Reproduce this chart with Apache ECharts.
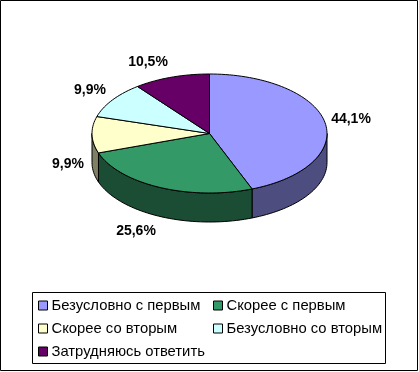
<!DOCTYPE html>
<html>
<head>
<meta charset="utf-8">
<style>
html,body{margin:0;padding:0;background:#fff;}
#chart{width:419px;height:372px;}
</style>
<script src="https://cdn.jsdelivr.net/npm/echarts@6/dist/echarts.min.js"></script>
</head>
<body>
<div id="chart"></div>
<script>
var categories = ["Безусловно с первым", "Скорее с первым", "Скорее со вторым", "Безусловно со вторым", "Затрудняюсь ответить"];
var values = [44.1, 25.6, 9.9, 9.9, 10.5];
var valueLabels = ["44,1%", "25,6%", "9,9%", "9,9%", "10,5%"];
var topColors = ["#9999ff", "#339966", "#ffffcc", "#ccffff", "#660066"];
var sideColors = ["#4d4d80", "#1a4d33", "#808066", "#668080", "#330033"];

// положение подписей и эллипса
var labelPos = [[351, 119], [136, 231], [68, 164], [90, 90], [148, 62]];
var cx = 209.5, cy = 133.5, rx = 117.5, ry = 59.5, depth = 29;

var total = 0;
for (var i = 0; i < values.length; i++) {
	total += values[i];
}

function pt(deg, dy) {
	var a = deg * Math.PI / 180;
	return [cx + rx * Math.sin(a), cy - ry * Math.cos(a) + dy];
}
function arc(from, to, dy) {
	var list = [];
	var n = Math.max(1, Math.ceil(Math.abs(to - from) / 2));
	for (var k = 0; k <= n; k++) {
		list.push(pt(from + (to - from) * k / n, dy));
	}
	return list;
}
function startAngle(idx) {
	var s = 0;
	for (var k = 0; k < idx; k++) {
		s += values[k];
	}
	return s / total * 360;
}

function makeRender(idx) {
	return function (params, api) {
		var a0 = startAngle(idx);
		var a1 = a0 + api.value(0) / total * 360;
		var children = [];
		// боковая стенка, только передняя половина
		var w0 = Math.max(a0, 90), w1 = Math.min(a1, 270);
		if (w1 > w0) {
			children.push({
				type: 'polygon',
				shape: {points: arc(w0, w1, 0).concat(arc(w1, w0, depth))},
				style: {fill: sideColors[idx], stroke: '#000', lineWidth: 1}
			});
		}
		children.push({
			type: 'polygon',
			shape: {points: [[cx, cy]].concat(arc(a0, a1, 0))},
			style: {fill: topColors[idx], stroke: '#000', lineWidth: 1}
		});
		children.push({
			type: 'text',
			style: {
				x: labelPos[idx][0],
				y: labelPos[idx][1],
				text: valueLabels[idx],
				fill: '#000',
				font: 'bold 14px "Liberation Sans", Arial, sans-serif',
				align: 'center',
				verticalAlign: 'middle'
			}
		});
		return {type: 'group', children: children};
	};
}

var series = [];
for (var j = 0; j < categories.length; j++) {
	series.push({
		name: categories[j],
		type: 'custom',
		coordinateSystem: 'none',
		silent: true,
		animation: false,
		itemStyle: {color: topColors[j]},
		renderItem: makeRender(j),
		data: [[values[j]]]
	});
}

function legendOf(names, left) {
	return {
		data: names,
		orient: 'vertical',
		left: left,
		top: 298,
		padding: 0,
		icon: 'rect',
		itemWidth: 9,
		itemHeight: 9,
		itemGap: 8,
		selectedMode: false,
		itemStyle: {borderColor: '#000', borderWidth: 1},
		textStyle: {
			color: '#000',
			fontFamily: '"Liberation Sans", Arial, sans-serif',
			fontSize: 14.8,
			padding: [0, 0, 0, -1]
		}
	};
}

var chart = echarts.init(document.getElementById('chart'), null, {renderer: 'canvas'});
chart.setOption({
	animation: false,
	backgroundColor: '#fff',
	legend: [
		legendOf([categories[0], categories[2], categories[4]], 38),
		legendOf([categories[1], categories[3]], 213)
	],
	graphic: [
		{type: 'rect', silent: true, z: -1, shape: {x: 0.5, y: 0.5, width: 417, height: 370}, style: {fill: '#fff', stroke: '#000', lineWidth: 1}},
		{type: 'rect', silent: true, z: -1, shape: {x: 32.5, y: 292.5, width: 353, height: 71}, style: {fill: '#fff', stroke: '#000', lineWidth: 1}}
	],
	series: series
});
</script>
</body>
</html>
